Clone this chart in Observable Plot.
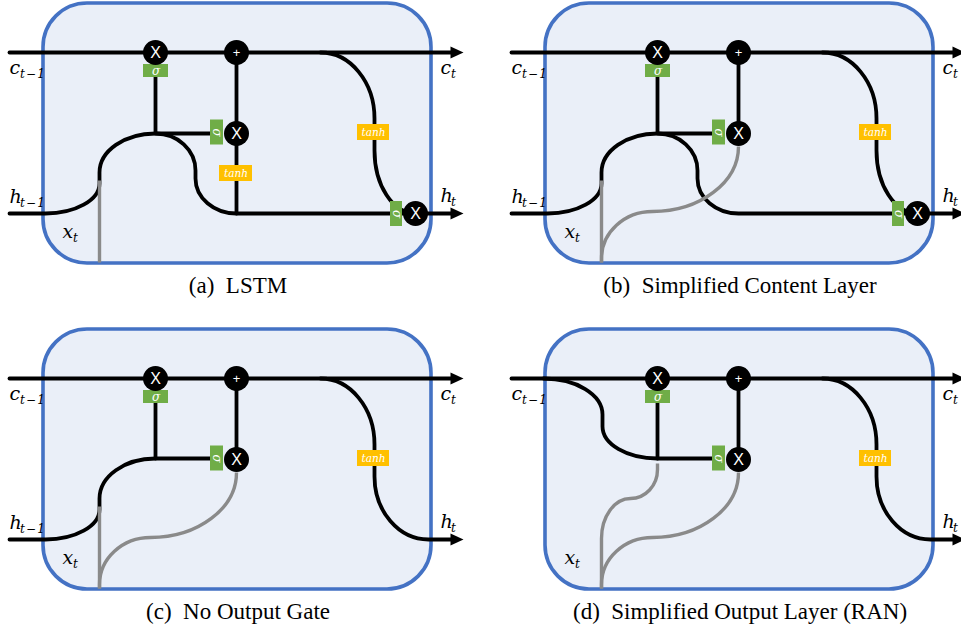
<!DOCTYPE html>
<html><head><meta charset="utf-8">
<script src="https://cdn.jsdelivr.net/npm/d3@7"></script>
<script src="https://cdn.jsdelivr.net/npm/@observablehq/plot@0.6"></script>
<style>
html,body{margin:0;padding:0;background:#fff;overflow:hidden;}
#chart{position:relative;width:961px;height:630px;}
#chart svg{position:absolute;overflow:visible;background:transparent;}
</style></head><body><div id="chart"></div>
<script>
// ---------------- data (panel-local diagram units) ----------------
const panelIds = ["a", "b", "c", "d"];
const panelCaptions = ["(a)\u2002LSTM", "(b)\u2002Simplified Content Layer", "(c)\u2002No Output Gate", "(d)\u2002Simplified Output Layer (RAN)"];
const panelColumn = [0, 1, 0, 1];
const panelRow = [0, 0, 1, 1];
const captionAnchor = [{x: 237.5, y: 292}];

const cellFrame = [{x1: 43, x2: 431, y1: 3, y2: 263}];

// black wires
const blackWires = [
  {id: "cell", panels: "abcd", pts: [[9, 52], [452, 52]]},
  {id: "hump", panels: "ab", pts: [[9, 213], [45, 213], [99, 183], [99, 172], [155, 133], [195, 170], [195, 178], [236, 213], [415, 213]]},
  {id: "inGate", panels: "c", pts: [[9, 213], [45, 213], [99, 183], [99, 172], [155, 132], [210, 132]]},
  {id: "ranGate", panels: "d", pts: [[41, 52], [100, 88], [100, 100], [155, 132], [210, 132]]},
  {id: "forgetStem", panels: "abcd", pts: [[155, 77], [155, 132]]},
  {id: "join", panels: "ab", pts: [[155, 133], [210, 133]]},
  {id: "updLong", panels: "a", pts: [[236, 52], [236, 213]]},
  {id: "upd", panels: "bcd", pts: [[236, 52], [236, 133]]},
  {id: "tanhGate", panels: "ab", pts: [[320, 52], [374, 118], [374, 150], [415, 213]]},
  {id: "tanhOut", panels: "cd", pts: [[320, 52], [374, 118], [374, 150], [428, 213], [452, 213]]},
  {id: "out", panels: "ab", pts: [[415, 213], [452, 213]]}
];

// grey input wires (x_t)
const greyWires = [
  {id: "xStem", panels: "abc", pts: [[99, 262], [99, 180]]},
  {id: "xGate", panels: "bcd", pts: [[99, 262], [99, 258], [150, 211], [236, 146]]},
  {id: "xJunction", panels: "d", pts: [[99, 262], [99, 212], [128, 172], [155, 143], [155, 137]]}
];

const arrowTips = [
  {x: 463, y: 52, panels: "abcd"},
  {x: 463, y: 213, panels: "abcd"}
];

const opNodes = [
  {x: 155, y: 52, sym: "X", panels: "abcd"},
  {x: 236, y: 52, sym: "+", panels: "abcd"},
  {x: 236, y: 133, sym: "X", panels: "abcd"},
  {x: 415, y: 213, sym: "X", panels: "ab"}
];

const gateBoxes = [
  {x1: 143, x2: 168, y1: 64, y2: 77, label: "σ", kind: "sigma", rot: 0, panels: "abcd"},
  {x1: 210, x2: 223, y1: 119.5, y2: 144.5, label: "σ", kind: "sigma", rot: 90, panels: "abcd"},
  {x1: 219, x2: 252, y1: 165, y2: 181, label: "tanh", kind: "tanh", rot: 0, panels: "a"},
  {x1: 357, x2: 389, y1: 124, y2: 140, label: "tanh", kind: "tanh", rot: 0, panels: "abcd"},
  {x1: 390, x2: 402, y1: 201, y2: 226, label: "σ", kind: "sigma", rot: 90, panels: "ab"}
];

const varLabels = [
  {base: "c", sub: "t\u200a\u2212\u200a1", x: 9, y: 73, panels: "abcd"},
  {base: "c", sub: "t", x: 440, y: 73, panels: "abcd"},
  {base: "h", sub: "t\u200a\u2212\u200a1", x: 9, y: 202, panels: "abc"},
  {base: "h", sub: "t", x: 440, y: 201, panels: "abcd"},
  {base: "x", sub: "t", x: 62, y: 237, panels: "abcd"}
];

// ---------------- styling ----------------
const BLUE = "#4472C4", FILL = "#eaeff8", GREEN = "#70AD47", ORANGE = "#FFC000", GREY = "#8a8a8a";
const MATH = "DejaVu Serif";
const CAPTION_FONT = "Liberation Serif";

// curve: quarter-ellipse bends, alternating horizontal/vertical tangents
function orthoRound(context) {
  let pts = [];
  return {
    areaStart() {}, areaEnd() {},
    lineStart() { pts = []; },
    point(x, y) { pts.push([+x, +y]); },
    lineEnd() {
      if (!pts.length) return;
      const K = 0.5523;
      context.moveTo(pts[0][0], pts[0][1]);
      let dir = "H";
      for (let i = 1; i < pts.length; i++) {
        const [x0, y0] = pts[i - 1], [x1, y1] = pts[i];
        const dx = x1 - x0, dy = y1 - y0;
        if (Math.abs(dy) < 1e-6) { context.lineTo(x1, y1); dir = "H"; }
        else if (Math.abs(dx) < 1e-6) { context.lineTo(x1, y1); dir = "V"; }
        else if (dir === "H") { context.bezierCurveTo(x0 + K * dx, y0, x1, y1 - K * dy, x1, y1); dir = "V"; }
        else { context.bezierCurveTo(x0, y0 + K * dy, x1 - K * dx, y1, x1, y1); dir = "H"; }
      }
    }
  };
}

const arrowHead = {
  draw(ctx) { ctx.moveTo(0, 0); ctx.lineTo(-13, -6); ctx.lineTo(-13, 6); ctx.closePath(); }
};

function flatten(wires, p) {
  return wires.filter(w => w.panels.includes(p))
    .flatMap(w => w.pts.map(([x, y]) => ({id: w.id, x, y})));
}

function panelPlot(i) {
  const p = panelIds[i];
  const on = d => d.panels.includes(p);
  const black = flatten(blackWires, p);
  const grey = flatten(greyWires, p);
  const boxes = gateBoxes.filter(on);
  const nodes = opNodes.filter(on);
  const labels = varLabels.filter(on);
  const cap = captionAnchor.map(d => ({...d, text: panelCaptions[i]}));
  const svg = Plot.plot({
    width: 480, height: 304,
    marginTop: 0, marginRight: 0, marginBottom: 0, marginLeft: 0,
    x: {domain: [0, 480], range: [0, 480], axis: null},
    y: {domain: [0, 304], range: [0, 304], axis: null},
    style: {background: "transparent", overflow: "visible"},
    marks: [
      Plot.rect(cellFrame, {x1: "x1", x2: "x2", y1: "y1", y2: "y2", rx: 44, fill: FILL, stroke: BLUE, strokeWidth: 3.6}),
      Plot.line(black, {x: "x", y: "y", z: "id", curve: orthoRound, stroke: "black", strokeWidth: 3.8, strokeLinecap: "round", strokeLinejoin: "round"}),
      Plot.line(grey, {x: "x", y: "y", z: "id", curve: orthoRound, stroke: GREY, strokeWidth: 3.4, strokeLinecap: "butt", strokeLinejoin: "round"}),
      Plot.dot(arrowTips.filter(on), {x: "x", y: "y", symbol: arrowHead, r: 6, fill: "black", stroke: null}),
      Plot.rect(boxes, {x1: "x1", x2: "x2", y1: "y1", y2: "y2", fill: d => d.kind === "tanh" ? ORANGE : GREEN}),
      Plot.text(boxes, {x: d => (d.x1 + d.x2) / 2, y: d => (d.y1 + d.y2) / 2, text: "label", rotate: "rot", fill: "white", fontFamily: MATH, fontStyle: "italic", fontSize: d => d.kind === "tanh" ? 10.5 : 12}),
      Plot.dot(nodes, {x: "x", y: "y", r: 12.5, fill: "black", stroke: null}),
      Plot.text(nodes, {x: "x", y: "y", text: "sym", fill: "white", fontFamily: "Liberation Sans", fontSize: d => d.sym === "+" ? 13 : 16}),
      Plot.text(labels, {x: "x", y: "y", text: "base", textAnchor: "start", lineAnchor: "bottom", fontFamily: MATH, fontStyle: "italic", fontSize: 19, fill: "black"}),
      Plot.text(labels, {x: "x", y: "y", text: "sub", dx: 10.5, dy: 4, textAnchor: "start", lineAnchor: "bottom", fontFamily: MATH, fontStyle: "italic", fontSize: 12, fill: "black"}),
      Plot.text(cap, {x: "x", y: "y", text: "text", textAnchor: "middle", lineAnchor: "bottom", fontFamily: CAPTION_FONT, fontSize: 23, fill: "black"})
    ]
  });
  svg.style.left = (panelColumn[i] * 502) + "px";
  svg.style.top = (panelRow[i] * 326) + "px";
  return svg;
}

const root = document.getElementById("chart");
panelIds.forEach((_, i) => root.appendChild(panelPlot(i)));
</script>
</body></html>
